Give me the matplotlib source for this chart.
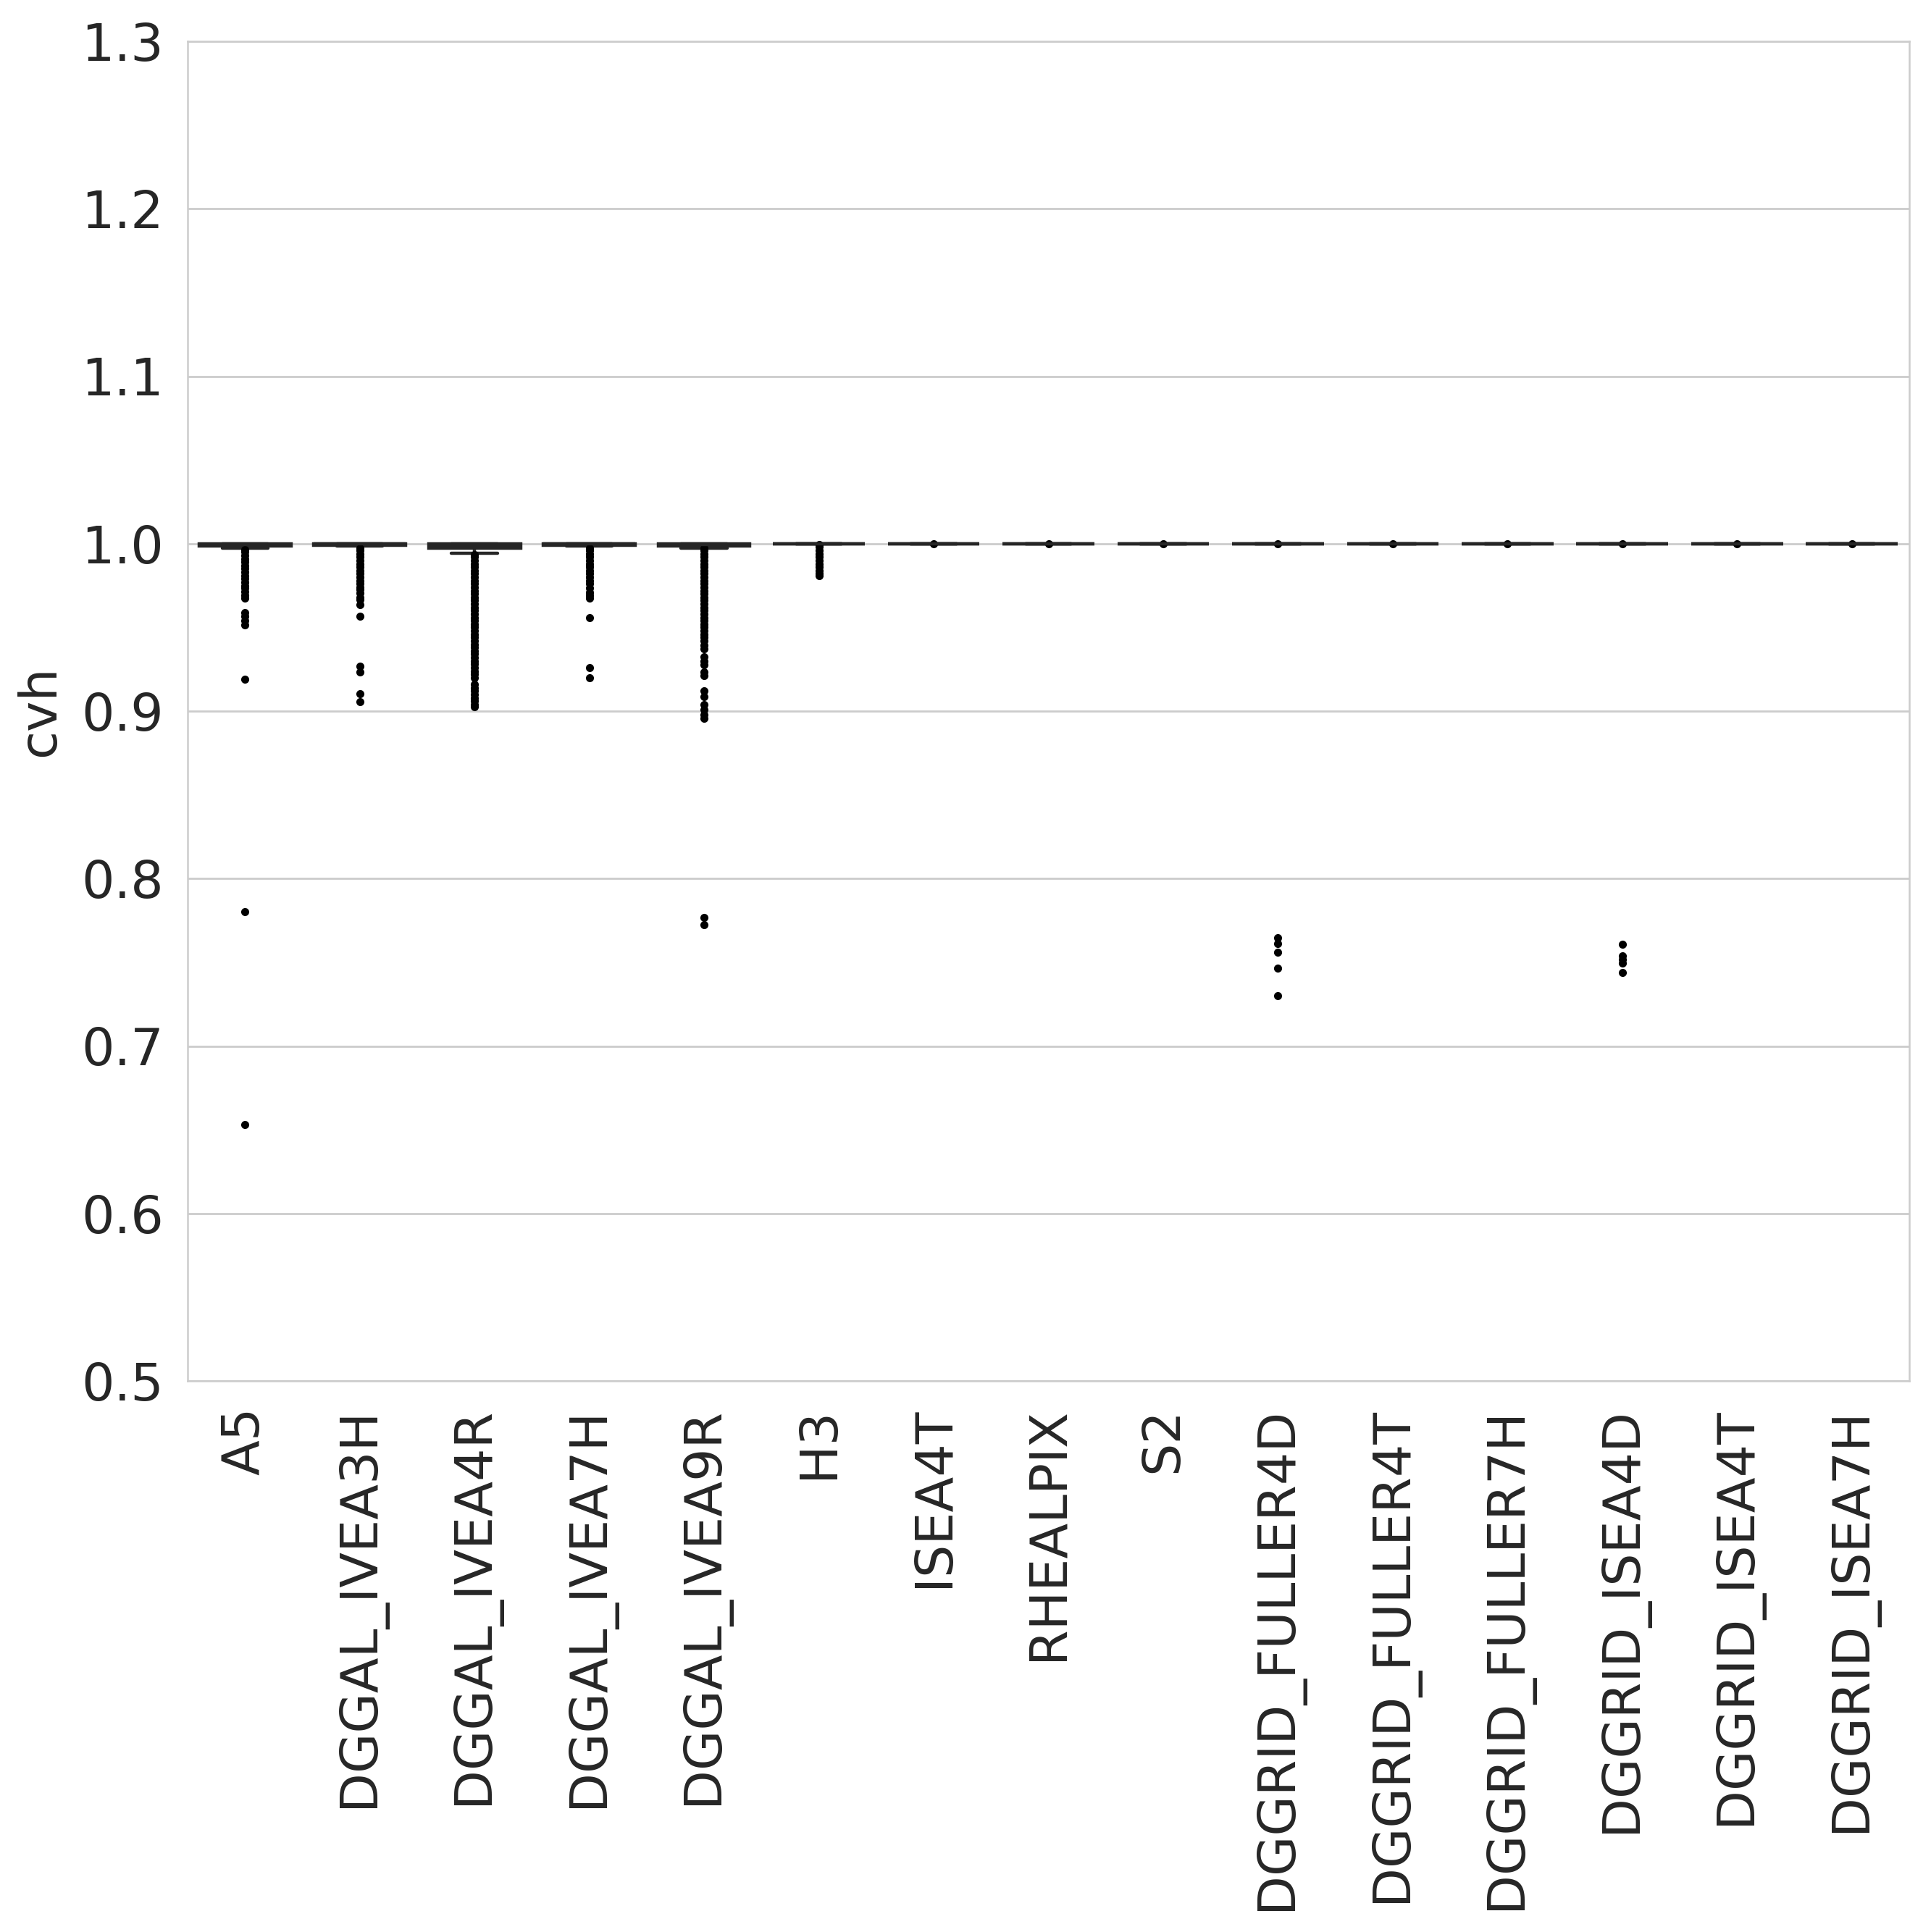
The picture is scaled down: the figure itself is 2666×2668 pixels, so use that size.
import matplotlib
matplotlib.use("Agg")
import matplotlib.pyplot as plt
import seaborn as sns
import numpy as np

sns.set_theme(style="whitegrid")
plt.rcParams['font.family'] = ['DejaVu Sans']

categories = ["A5", "DGGAL_IVEA3H", "DGGAL_IVEA4R", "DGGAL_IVEA7H", "DGGAL_IVEA9R",
              "H3", "ISEA4T", "RHEALPIX", "S2", "DGGRID_FULLER4D", "DGGRID_FULLER4T",
              "DGGRID_FULLER7H", "DGGRID_ISEA4D", "DGGRID_ISEA4T", "DGGRID_ISEA7H"]

q1_vals     = [0.9986, 0.9992, 0.9975, 0.9992, 0.9986, 1.0, 1.0, 1.0, 1.0, 1.0, 1.0, 1.0, 1.0, 1.0, 1.0]
median_vals = [0.9996, 0.9998, 0.9992, 0.9998, 0.9996, 1.0, 1.0, 1.0, 1.0, 1.0, 1.0, 1.0, 1.0, 1.0, 1.0]
q3_vals     = [1.0, 1.0, 1.0, 1.0, 1.0, 1.0, 1.0, 1.0, 1.0, 1.0, 1.0, 1.0, 1.0, 1.0, 1.0]
whislo_vals = [0.9975, 0.9985, 0.9943, 0.9985, 0.9975, 1.0, 1.0, 1.0, 1.0, 1.0, 1.0, 1.0, 1.0, 1.0, 1.0]
whishi_vals = [1.0, 1.0, 1.0, 1.0, 1.0, 1.0, 1.0, 1.0, 1.0, 1.0, 1.0, 1.0, 1.0, 1.0, 1.0]

fliers_a5 = [0.9965, 0.995, 0.993, 0.991, 0.989, 0.987, 0.985, 0.983, 0.981, 0.979,
             0.977, 0.975, 0.9735, 0.9715, 0.969, 0.9675, 0.959, 0.9565, 0.954, 0.9515,
             0.919, 0.7803, 0.6532]
fliers_3h = [0.9975, 0.996, 0.994, 0.992, 0.990, 0.988, 0.986, 0.984, 0.982, 0.980,
             0.978, 0.976, 0.974, 0.9725, 0.9705, 0.968, 0.9665, 0.9637, 0.9566,
             0.927, 0.9235, 0.9105, 0.9055]
fliers_4r = [0.9935, 0.992, 0.990, 0.988, 0.986, 0.984, 0.982, 0.980, 0.978, 0.976,
             0.974, 0.972, 0.970, 0.968, 0.966, 0.964, 0.962, 0.960, 0.958, 0.956,
             0.954, 0.952, 0.950, 0.948, 0.946, 0.944, 0.942, 0.940, 0.938, 0.936,
             0.934, 0.932, 0.930, 0.928, 0.926, 0.924, 0.922, 0.920, 0.916, 0.914,
             0.912, 0.910, 0.908, 0.906, 0.904, 0.9025]
fliers_7h = [0.9975, 0.996, 0.994, 0.992, 0.990, 0.988, 0.986, 0.984, 0.982, 0.980,
             0.978, 0.976, 0.9735, 0.971, 0.969, 0.9675, 0.9559, 0.926, 0.920]
fliers_9r = [0.9975, 0.996, 0.994, 0.992, 0.990, 0.988, 0.986, 0.984, 0.982, 0.980,
             0.978, 0.976, 0.974, 0.972, 0.970, 0.968, 0.966, 0.964, 0.962, 0.960,
             0.958, 0.956, 0.954, 0.952, 0.950, 0.948, 0.946, 0.944, 0.942, 0.9395,
             0.937, 0.9325, 0.930, 0.9275, 0.9235, 0.921, 0.912, 0.9085, 0.904, 0.901,
             0.898, 0.8955, 0.7769, 0.7725]
fliers_h3 = [0.9995, 0.998, 0.996, 0.994, 0.992, 0.990, 0.988, 0.986, 0.984, 0.982, 0.981]
fliers_isea4t = [1.0]
fliers_rhealpix = [1.0]
fliers_s2 = [1.0]
fliers_fuller4d = [1.0, 0.7648, 0.7612, 0.7561, 0.7465, 0.7302]
fliers_fuller4t = [1.0]
fliers_fuller7h = [1.0]
fliers_isea4d = [1.0, 0.7607, 0.7539, 0.7515, 0.7496, 0.7439]
fliers_dggrid_isea4t = [1.0]
fliers_dggrid_isea7h = [1.0]

all_fliers = [fliers_a5, fliers_3h, fliers_4r, fliers_7h, fliers_9r, fliers_h3,
              fliers_isea4t, fliers_rhealpix, fliers_s2, fliers_fuller4d, fliers_fuller4t,
              fliers_fuller7h, fliers_isea4d, fliers_dggrid_isea4t, fliers_dggrid_isea7h]

stats = []
for i, c in enumerate(categories):
    stats.append(dict(label=c, q1=q1_vals[i], med=median_vals[i], q3=q3_vals[i],
                      whislo=whislo_vals[i], whishi=whishi_vals[i],
                      fliers=np.array(all_fliers[i])))

W, H, DPI = 2666, 2668, 200
fig = plt.figure(figsize=(W / DPI, H / DPI), dpi=DPI)
left, right, top, bottom = 259, 2636, 57, 1907
ax = fig.add_axes([left / W, 1 - bottom / H, (right - left) / W, (bottom - top) / H])

line_c = '#262626'
lw = 1.6
ax.bxp(stats, positions=list(range(len(categories))), widths=0.8, capwidths=0.4,
       patch_artist=True, showfliers=True,
       boxprops=dict(facecolor='#3a3a3a', edgecolor=line_c, linewidth=lw),
       medianprops=dict(color=line_c, linewidth=lw),
       whiskerprops=dict(color=line_c, linewidth=lw),
       capprops=dict(color=line_c, linewidth=lw),
       flierprops=dict(marker='o', markersize=3.0, markerfacecolor='black',
                       markeredgecolor='black', linestyle='none'))

ax.set_xlim(-0.5, len(categories) - 0.5)
ax.set_ylim(0.5, 1.3)
ax.set_yticks(np.round(np.arange(0.5, 1.301, 0.1), 1))
ax.set_yticklabels([f"{v:.1f}" for v in np.arange(0.5, 1.301, 0.1)])
ax.set_xticks(range(len(categories)))
ax.set_xticklabels(categories, rotation=90)

fs = 25.7
ax.tick_params(axis='y', labelsize=fs, pad=12, length=0, labelcolor='#262626')
ax.tick_params(axis='x', labelsize=fs, pad=13, length=0, labelcolor='#262626')
ax.set_ylabel('cvh', fontsize=fs, labelpad=8, color='#262626')

ax.grid(axis='x', visible=False)
ax.grid(axis='y', color='#cccccc', linewidth=1.0)
ax.set_axisbelow(True)
for s in ax.spines.values():
    s.set_color('#cccccc')
    s.set_linewidth(0.9)

fig.savefig('out.png', dpi=DPI)
